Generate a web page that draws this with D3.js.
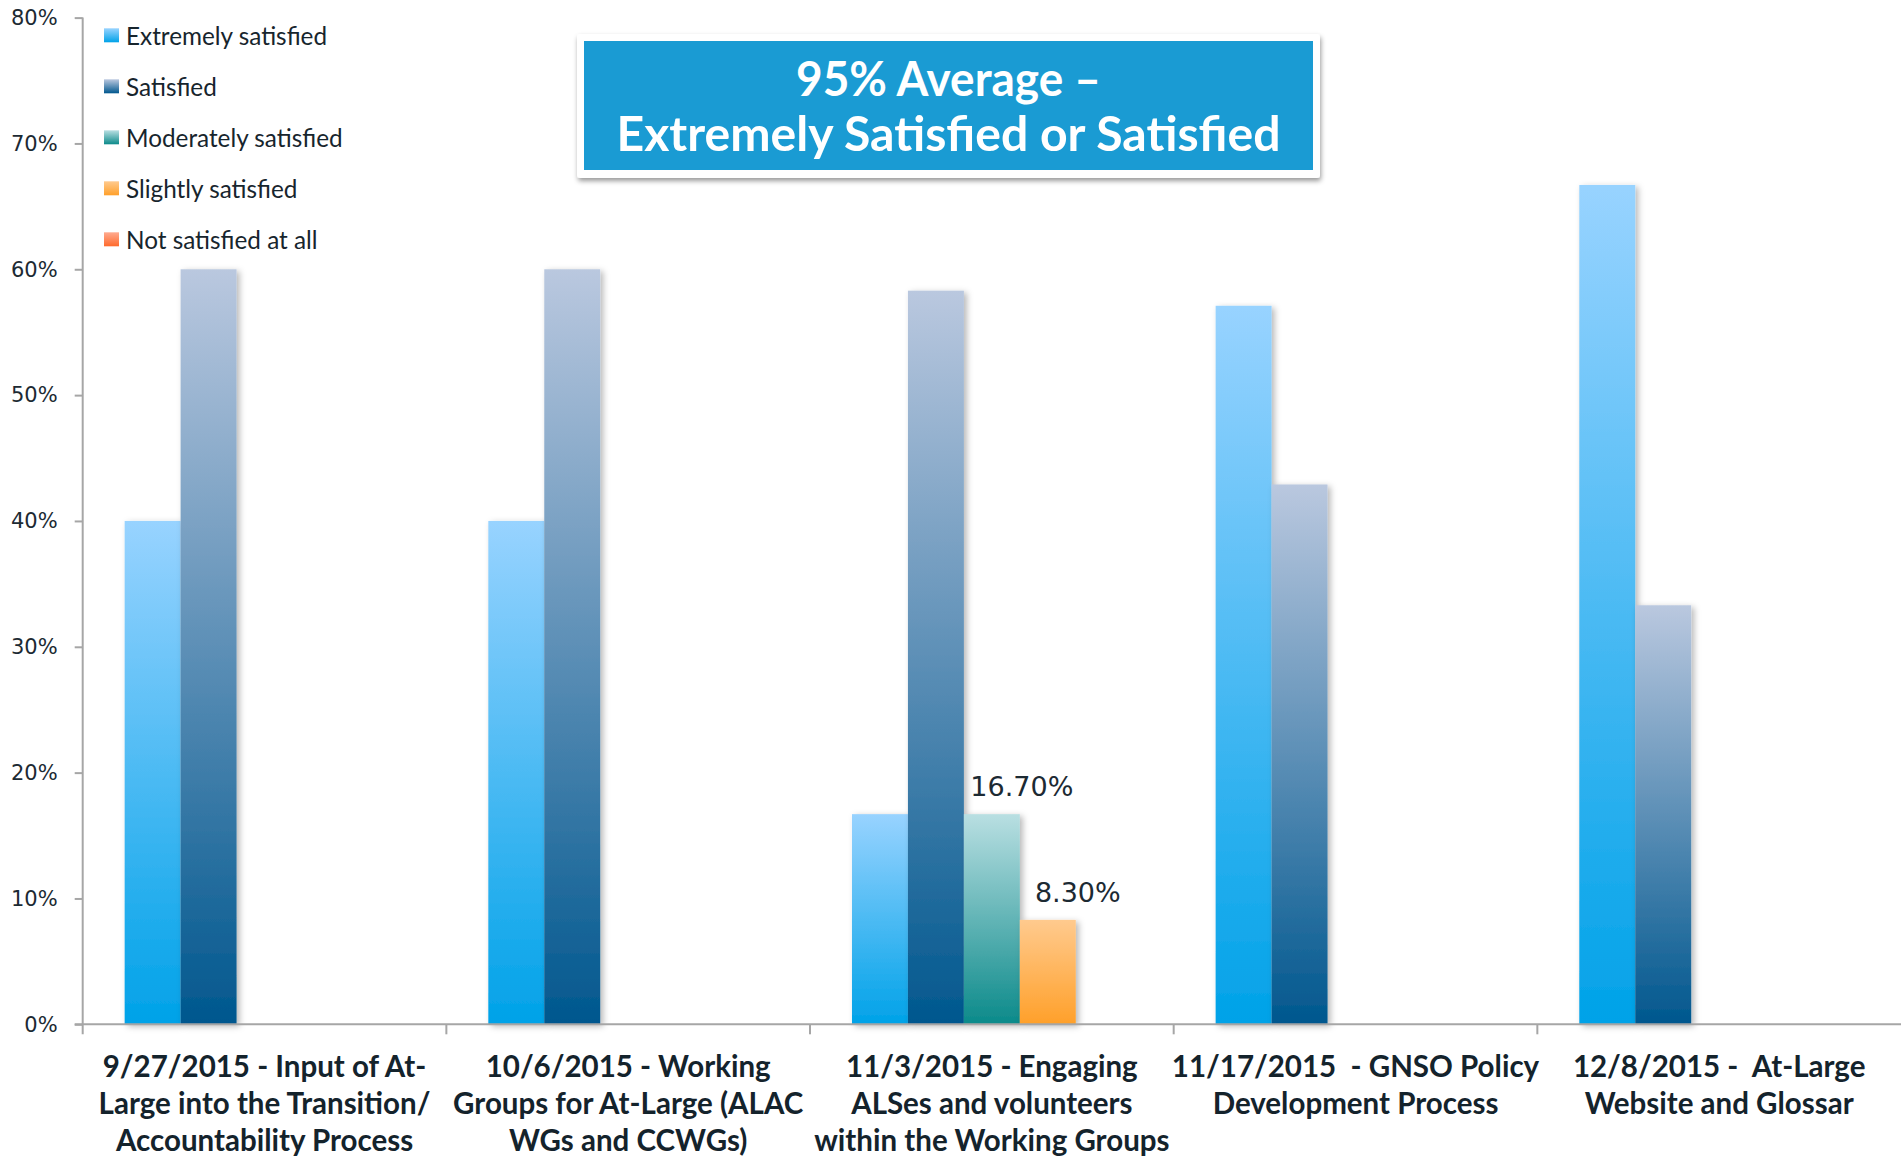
<!DOCTYPE html>
<html>
<head>
<meta charset="utf-8">
<script src="https://cdn.jsdelivr.net/npm/d3@7"></script>
<style>
  html, body { margin: 0; padding: 0; background: #ffffff; }
  svg { display: block; }
  text.cat { white-space: pre; }
</style>
</head>
<body>
<svg id="chart" width="1901" height="1157"></svg>
<script>
// ---------------- DATA ----------------
const categories = [
  "9/27/2015 - Input of At-Large into the Transition/ Accountability Process",
  "10/6/2015 - Working Groups for At-Large (ALAC WGs and CCWGs)",
  "11/3/2015 - Engaging ALSes and volunteers within the Working Groups",
  "11/17/2015  - GNSO Policy Development Process",
  "12/8/2015 -  At-Large Website and Glossar"
];
const categoryLines = [
  ["9/27/2015 - Input of At-", "Large into the Transition/", "Accountability Process"],
  ["10/6/2015 - Working", "Groups for At-Large (ALAC", "WGs and CCWGs)"],
  ["11/3/2015 - Engaging", "ALSes and volunteers", "within the Working Groups"],
  ["11/17/2015  - GNSO Policy", "Development Process"],
  ["12/8/2015 -  At-Large", "Website and Glossar"]
];
const seriesNames = ["Extremely satisfied", "Satisfied", "Moderately satisfied", "Slightly satisfied", "Not satisfied at all"];
const extremelySatisfied = [0.40, 0.40, 0.167, 0.571, 0.667];
const satisfied          = [0.60, 0.60, 0.583, 0.429, 0.333];
const moderatelySatisfied= [0, 0, 0.167, 0, 0];
const slightlySatisfied  = [0, 0, 0.083, 0, 0];
const notSatisfied       = [0, 0, 0, 0, 0];
const yTicks = [0, 0.1, 0.2, 0.3, 0.4, 0.5, 0.6, 0.7, 0.8];
const dataLabels = [
  {category: 2, series: 2, text: "16.70%"},
  {category: 2, series: 3, text: "8.30%"}
];
const titleLines = ["95% Average \u2013", "Extremely Satisfied or Satisfied"];
const seriesGradients = [
  ["#98d3ff", "#00a2e8"],
  ["#bac8df", "#00578e"],
  ["#b9dfe2", "#0b8a8a"],
  ["#ffca8e", "#ffa02a"],
  ["#ffab90", "#ff6a2c"]
];

// ---------------- BUILD ----------------
const allValues = [extremelySatisfied, satisfied, moderatelySatisfied, slightlySatisfied, notSatisfied];
const svg = d3.select("#chart");
const plotLeft = 82.7, plotRight = 1901, plotTop = 17.6, plotBottom = 1024.3;

const defs = svg.append("defs");
seriesGradients.forEach((g, i) => {
  const lg = defs.append("linearGradient").attr("id", "grad" + i)
    .attr("x1", 0).attr("y1", 0).attr("x2", 0).attr("y2", 1);
  lg.append("stop").attr("offset", "0%").attr("stop-color", g[0]);
  lg.append("stop").attr("offset", "100%").attr("stop-color", g[1]);
});
const f = defs.append("filter").attr("id", "shadow").attr("x", "-20%").attr("y", "-5%").attr("width", "150%").attr("height", "115%");
f.append("feDropShadow").attr("dx", 3).attr("dy", 2).attr("stdDeviation", 3).attr("flood-color", "#000").attr("flood-opacity", 0.28);
const f2 = defs.append("filter").attr("id", "boxshadow").attr("x", "-5%").attr("y", "-10%").attr("width", "110%").attr("height", "130%");
f2.append("feDropShadow").attr("dx", 1).attr("dy", 3).attr("stdDeviation", 2.5).attr("flood-color", "#000").attr("flood-opacity", 0.4);

const x0 = d3.scaleBand().domain(categories.map((d, i) => i)).range([plotLeft, plotRight]).paddingInner(0).paddingOuter(0);
const x1 = d3.scaleBand().domain(seriesNames.map((d, i) => i)).range([0, x0.bandwidth()]).paddingInner(0).paddingOuter(0.75);
const y = d3.scaleLinear().domain([0, 0.8]).range([plotBottom, plotTop]);

// Bars
const groups = svg.append("g").selectAll("g").data(categories).join("g")
  .attr("transform", (d, i) => `translate(${x0(i)},0)`);
groups.selectAll("rect")
  .data((d, ci) => allValues.map((arr, si) => ({si, v: arr[ci]})).filter(e => e.v > 0))
  .join("rect")
  .attr("x", d => x1(d.si))
  .attr("y", d => y(d.v))
  .attr("width", x1.bandwidth())
  .attr("height", d => y(0) - y(d.v))
  .attr("fill", d => `url(#grad${d.si})`)
  .attr("filter", "url(#shadow)");

// Y axis
const yAxis = d3.axisLeft(y).tickValues(yTicks).tickFormat(d3.format(".0%")).tickSize(8).tickPadding(17);
const yg = svg.append("g").attr("transform", `translate(${plotLeft},0)`).call(yAxis);
yg.select(".domain").attr("stroke", "#a6a6a6").attr("stroke-width", 2).attr("d", `M0,${plotTop}V${plotBottom + 10}`);
yg.selectAll(".tick line").attr("stroke", "#a6a6a6").attr("stroke-width", 2);
yg.selectAll(".tick text").attr("font-family", "DejaVu Sans").attr("font-size", 21).attr("fill", "#1c2a33");

// X axis
const xg = svg.append("g");
xg.append("line").attr("x1", plotLeft - 8).attr("x2", plotRight).attr("y1", plotBottom).attr("y2", plotBottom)
  .attr("stroke", "#a6a6a6").attr("stroke-width", 2);
xg.selectAll("line.bt").data(categories.slice(1)).join("line").attr("class", "bt")
  .attr("x1", (d, i) => x0(i + 1)).attr("x2", (d, i) => x0(i + 1))
  .attr("y1", plotBottom).attr("y2", plotBottom + 10)
  .attr("stroke", "#a6a6a6").attr("stroke-width", 2);
const labels = xg.selectAll("text.cat").data(categoryLines).join("text").attr("class", "cat")
  .attr("x", (d, i) => x0(i) + x0.bandwidth() / 2)
  .attr("y", 1077)
  .attr("text-anchor", "middle")
  .attr("font-family", "Lato").attr("font-weight", 700).attr("font-size", 29.5).attr("fill", "#14232c");
labels.selectAll("tspan").data(d => d).join("tspan")
  .attr("x", function () { return d3.select(this.parentNode).attr("x"); })
  .attr("dy", (d, i) => i === 0 ? 0 : 36.8)
  .text(d => d);

// Data labels
svg.append("g").selectAll("text").data(dataLabels).join("text")
  .attr("x", d => x0(d.category) + x1(d.series) + x1.bandwidth() / 2 + 30)
  .attr("y", d => y(allValues[d.series][d.category]) - 18)
  .attr("text-anchor", "middle")
  .attr("font-family", "DejaVu Sans").attr("font-size", 27).attr("fill", "#1c2a33")
  .text(d => d.text);

// Legend
const legend = svg.append("g").selectAll("g").data(seriesNames).join("g")
  .attr("transform", (d, i) => `translate(104,${28.3 + i * 51})`);
legend.append("rect").attr("width", 15).attr("height", 14).attr("fill", (d, i) => `url(#grad${i})`);
legend.append("text").attr("x", 22).attr("y", 16.5).attr("font-family", "Lato").attr("font-size", 24.3)
  .attr("fill", "#17252d").text(d => d);

// Title box
const tb = svg.append("g");
tb.append("rect").attr("x", 577).attr("y", 34).attr("width", 743).attr("height", 144)
  .attr("rx", 3).attr("fill", "#ffffff").attr("filter", "url(#boxshadow)");
tb.append("rect").attr("x", 584).attr("y", 41).attr("width", 729).attr("height", 129).attr("fill", "#1a9bd3");
tb.selectAll("text").data(titleLines).join("text")
  .attr("x", 948.5)
  .attr("y", (d, i) => i === 0 ? 96 : 151)
  .attr("text-anchor", "middle")
  .attr("font-family", "Lato").attr("font-weight", 700).attr("font-size", 48).attr("fill", "#ffffff")
  .attr("textLength", (d, i) => i === 0 ? 305 : 664)
  .attr("lengthAdjust", "spacingAndGlyphs")
  .text(d => d);
</script>
</body>
</html>
